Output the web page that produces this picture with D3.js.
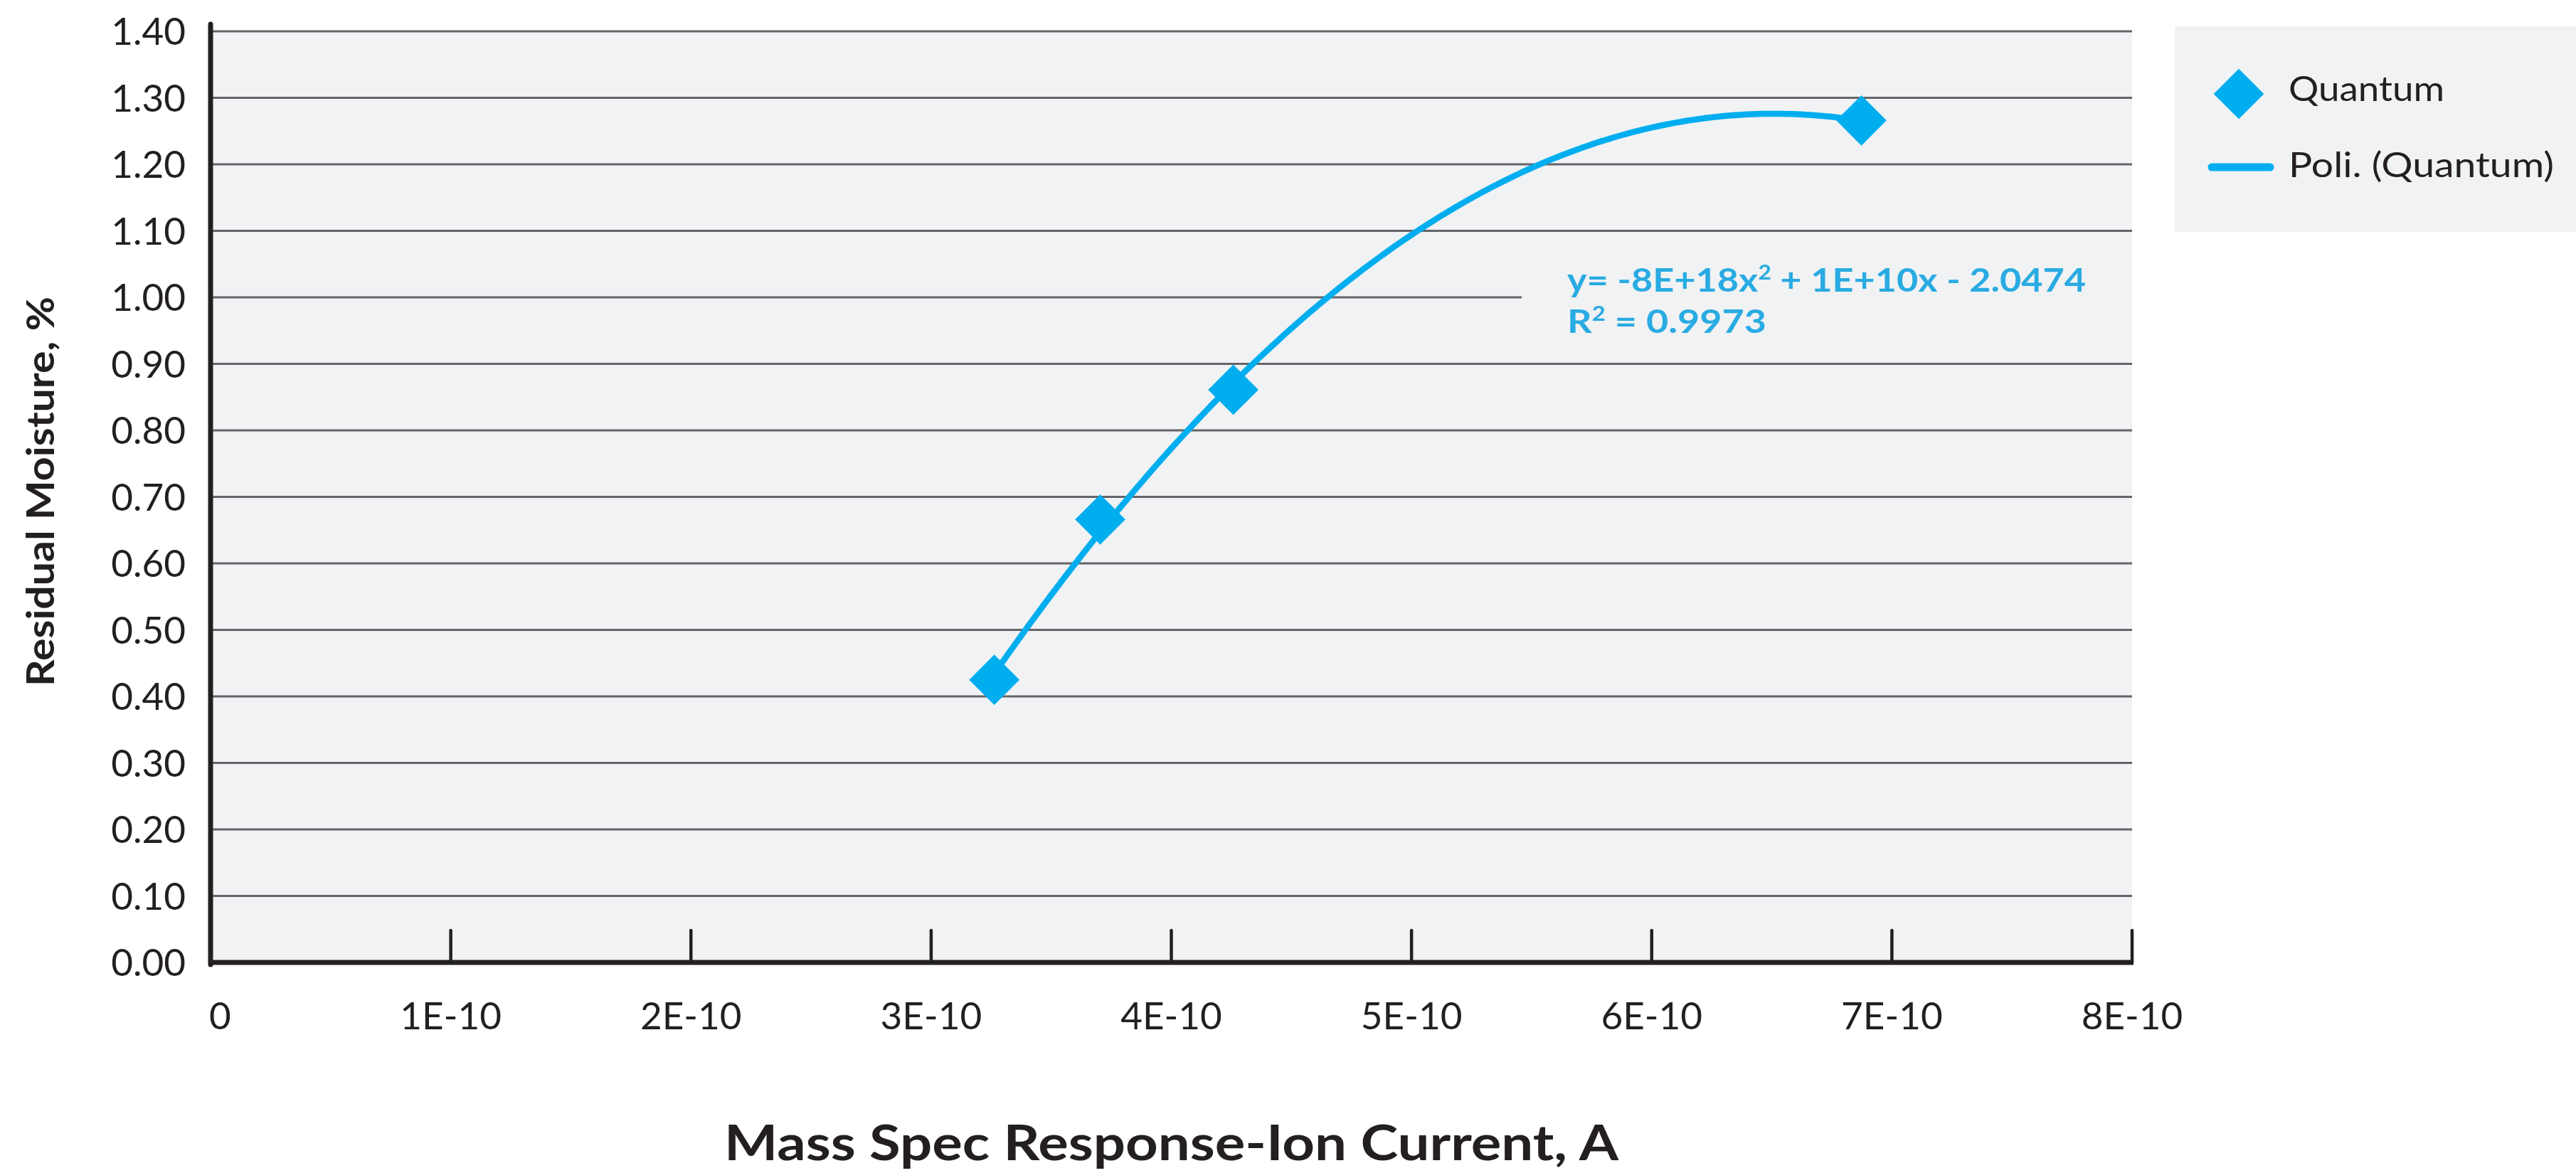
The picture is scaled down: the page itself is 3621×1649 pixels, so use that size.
<!DOCTYPE html>
<html>
<head>
<meta charset="utf-8">
<script src="https://cdn.jsdelivr.net/npm/d3@7"></script>
<style>
  html, body { margin: 0; padding: 0; background: #ffffff; }
  svg { display: block; }
</style>
</head>
<body>
<script>
// ---------- data ----------
const seriesName = "Quantum";
const trendName = "Poli. (Quantum)";
const xValues = [3.263e-10, 3.704e-10, 4.258e-10, 6.873e-10];
const yValues = [0.425, 0.666, 0.861, 1.266];
const yTicks = [0, 0.1, 0.2, 0.3, 0.4, 0.5, 0.6, 0.7, 0.8, 0.9, 1.0, 1.1, 1.2, 1.3, 1.4];
const yTickLabels = ["0.00","0.10","0.20","0.30","0.40","0.50","0.60","0.70","0.80","0.90","1.00","1.10","1.20","1.30","1.40"];
const xTicks = [0, 1e-10, 2e-10, 3e-10, 4e-10, 5e-10, 6e-10, 7e-10, 8e-10];
const xTickLabels = ["0","1E-10","2E-10","3E-10","4E-10","5E-10","6E-10","7E-10","8E-10"];
const equationLine1 = ["y= -8E+18x", "2", " + 1E+10x - 2.0474"];
const equationLine2 = ["R", "2", " = 0.9973"];
const xTitle = "Mass Spec Response-Ion Current, A";
const yTitle = "Residual Moisture, %";

// ---------- setup ----------
const W = 3621, H = 1649;
const blue = "#00aeef", eqBlue = "#29abe2", dark = "#231f20", gridCol = "#646568", bg = "#f1f2f4";
const font = "Lato, 'Open Sans', sans-serif";

const svg = d3.select("body").append("svg").attr("width", W).attr("height", H);

const x = d3.scaleLinear().domain([0, 8e-10]).range([296, 2997]);
const y = d3.scaleLinear().domain([0, 1.4]).range([1353, 44]);

// plot background
svg.append("rect").attr("x", x(0)).attr("y", y(1.4)).attr("width", x(8e-10) - x(0)).attr("height", y(0) - y(1.4)).attr("fill", bg);

// gridlines
svg.append("g").selectAll("line").data(yTicks.filter(d => d > 0)).join("line")
  .attr("x1", x(0)).attr("x2", x(8e-10))
  .attr("y1", d => y(d)).attr("y2", d => y(d))
  .attr("stroke", gridCol).attr("stroke-width", 3);

// quadratic least-squares trendline from data
function polyfit2(xs, ys) {
  const s = 1e10;
  const X = xs.map(v => v * s);
  let S = [0,0,0,0,0], T = [0,0,0];
  X.forEach((xv, i) => {
    for (let k = 0; k < 5; k++) S[k] += Math.pow(xv, k);
    for (let k = 0; k < 3; k++) T[k] += Math.pow(xv, k) * ys[i];
  });
  const A = [[S[0],S[1],S[2],T[0]],[S[1],S[2],S[3],T[1]],[S[2],S[3],S[4],T[2]]];
  for (let i = 0; i < 3; i++) {
    let p = i;
    for (let r = i+1; r < 3; r++) if (Math.abs(A[r][i]) > Math.abs(A[p][i])) p = r;
    [A[i], A[p]] = [A[p], A[i]];
    for (let r = 0; r < 3; r++) if (r !== i) {
      const f = A[r][i] / A[i][i];
      for (let c = i; c < 4; c++) A[r][c] -= f * A[i][c];
    }
  }
  const c = [A[0][3]/A[0][0], A[1][3]/A[1][1], A[2][3]/A[2][2]];
  return xv => c[0] + c[1]*(xv*s) + c[2]*(xv*s)*(xv*s);
}
const fit = polyfit2(xValues, yValues);
const x0 = d3.min(xValues), x1 = d3.max(xValues);
const curve = d3.range(0, 201).map(i => x0 + (x1 - x0) * i / 200).map(v => [v, fit(v)]);

// equation label background (covers gridline)
const eqG = svg.append("g");
eqG.append("rect").attr("x", 2139).attr("y", y(1.0) - 45).attr("width", x(8e-10) - 2139).attr("height", 100).attr("fill", bg);

// trendline
svg.append("path").datum(curve)
  .attr("d", d3.line().x(d => x(d[0])).y(d => y(d[1])))
  .attr("fill", "none").attr("stroke", blue).attr("stroke-width", 8.5);

// markers
const diamond = d3.symbol().type(d3.symbolSquare).size(50 * 50);
svg.append("g").selectAll("path").data(xValues.map((v, i) => [v, yValues[i]])).join("path")
  .attr("d", diamond)
  .attr("transform", d => `translate(${x(d[0])},${y(d[1])}) rotate(45)`)
  .attr("fill", blue);

// equation text
function eqText(parts, yPos, len) {
  const t = eqG.append("text").attr("x", 2203).attr("y", yPos)
    .attr("font-family", font).attr("font-weight", 700).attr("font-size", 46).attr("fill", eqBlue)
    .attr("textLength", len).attr("lengthAdjust", "spacingAndGlyphs");
  t.append("tspan").text(parts[0]);
  t.append("tspan").attr("font-size", 28).attr("dy", -17).text(parts[1]);
  t.append("tspan").attr("dy", 17).text(parts[2]);
}
eqText(equationLine1, 410, 729);
eqText(equationLine2, 468, 280);

// axes lines
svg.append("line").attr("x1", x(0)).attr("x2", x(0)).attr("y1", 34).attr("y2", y(0) + 3)
  .attr("stroke", dark).attr("stroke-width", 7).attr("stroke-linecap", "round");
svg.append("line").attr("x1", x(0) - 3).attr("x2", x(8e-10) + 2).attr("y1", y(0)).attr("y2", y(0))
  .attr("stroke", dark).attr("stroke-width", 7);
svg.append("g").selectAll("line").data(xTicks.filter(d => d > 0)).join("line")
  .attr("x1", d => x(d)).attr("x2", d => x(d))
  .attr("y1", y(0)).attr("y2", y(0) - 45)
  .attr("stroke", dark).attr("stroke-width", 4.5).attr("stroke-linecap", "round");

// y tick labels
svg.append("g").selectAll("text").data(yTicks).join("text")
  .attr("x", 261).attr("y", d => y(d)).attr("dy", "0.36em")
  .attr("text-anchor", "end")
  .attr("font-family", font).attr("font-size", 53).attr("fill", dark)
  .text((d, i) => yTickLabels[i]);

// x tick labels
svg.append("g").selectAll("text").data(xTicks).join("text")
  .attr("x", d => d === 0 ? x(d) - 2 : x(d)).attr("y", 1447)
  .attr("text-anchor", d => d === 0 ? "start" : "middle")
  .attr("font-family", font).attr("font-size", 53).attr("fill", dark)
  .text((d, i) => xTickLabels[i]);

// axis titles
svg.append("text").attr("x", (x(0) + x(8e-10)) / 2).attr("y", 1631)
  .attr("text-anchor", "middle").attr("font-family", font).attr("font-weight", 700)
  .attr("font-size", 68).attr("fill", dark)
  .attr("textLength", 1257).attr("lengthAdjust", "spacingAndGlyphs").text(xTitle);
svg.append("text").attr("transform", `translate(76,${(417 + 965) / 2}) rotate(-90)`)
  .attr("text-anchor", "middle").attr("font-family", font).attr("font-weight", 700)
  .attr("font-size", 54).attr("fill", dark)
  .attr("textLength", 548).attr("lengthAdjust", "spacingAndGlyphs").text(yTitle);

// legend
const lg = svg.append("g");
lg.append("rect").attr("x", 3057).attr("y", 37).attr("width", W - 3057).attr("height", 289).attr("fill", bg);
lg.append("path").attr("d", diamond).attr("transform", "translate(3147,132) rotate(45)").attr("fill", blue);
lg.append("text").attr("x", 3217).attr("y", 142).attr("font-family", font).attr("font-size", 49).attr("fill", dark)
  .attr("textLength", 219).attr("lengthAdjust", "spacingAndGlyphs").text(seriesName);
lg.append("line").attr("x1", 3109).attr("x2", 3191).attr("y1", 235).attr("y2", 235)
  .attr("stroke", blue).attr("stroke-width", 11).attr("stroke-linecap", "round");
lg.append("text").attr("x", 3217).attr("y", 249).attr("font-family", font).attr("font-size", 49).attr("fill", dark)
  .attr("textLength", 373).attr("lengthAdjust", "spacingAndGlyphs").text(trendName);
</script>
</body>
</html>
